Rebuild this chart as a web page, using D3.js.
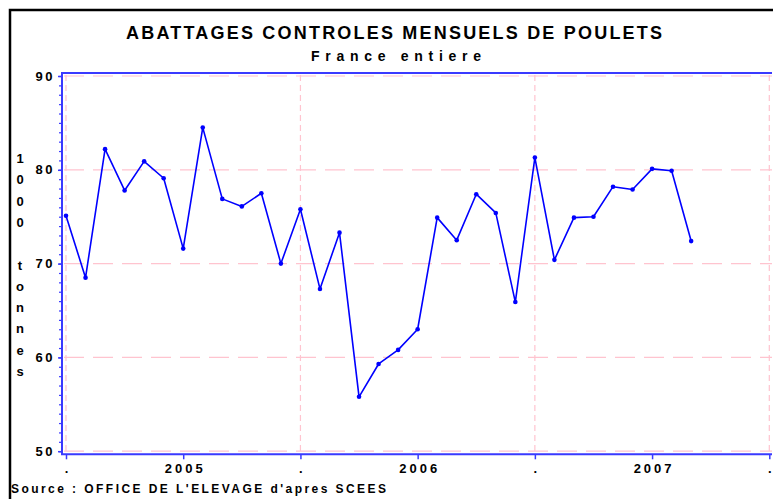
<!DOCTYPE html>
<html>
<head>
<meta charset="utf-8">
<script src="https://cdn.jsdelivr.net/npm/d3@7"></script>
<style>
  body { margin: 0; background: #fff; }
  svg text { font-family: Arial, "Liberation Sans", sans-serif; font-weight: bold; fill: #000; }
</style>
</head>
<body>
<div id="chart"></div>
<script>
// monthly chicken slaughter, 1000 tonnes
const months = [
  '2004-07', '2004-08', '2004-09', '2004-10', '2004-11', '2004-12',
  '2005-01', '2005-02', '2005-03', '2005-04', '2005-05', '2005-06',
  '2005-07', '2005-08', '2005-09', '2005-10', '2005-11', '2005-12',
  '2006-01', '2006-02', '2006-03', '2006-04', '2006-05', '2006-06',
  '2006-07', '2006-08', '2006-09', '2006-10', '2006-11', '2006-12',
  '2007-01', '2007-02', '2007-03'
];
const tonnes = [
  75.1, 68.5, 82.2, 77.8, 80.9, 79.1,
  71.6, 84.5, 76.9, 76.1, 77.5, 70.0,
  75.8, 67.3, 73.3, 55.8, 59.3, 60.8,
  63.0, 74.9, 72.5, 77.4, 75.4, 65.9,
  81.3, 70.4, 74.9, 75.0, 78.2, 77.9,
  80.1, 79.9, 72.4
];
const xTickMonths = [0, 6, 12, 18, 24, 30, 36];
const xTickLabels = ['.', '2005', '.', '2006', '.', '2007', '.'];
const xGridMonths = [0, 12, 24, 36];
const yTicks = [50, 60, 70, 80, 90];
const yLabelChars = ['1', '0', '0', '0', ' ', 't', 'o', 'n', 'n', 'e', 's'];

const width = 773;
const height = 499;

const svg = d3.select('#chart').append('svg')
  .attr('width', width)
  .attr('height', height);

// outer frame (only top/left visible in the picture)
svg.append('path')
  .attr('d', `M10,${height + 5}V10H${width + 5}`)
  .attr('fill', 'none')
  .attr('stroke', '#000')
  .attr('stroke-width', 2.5);

svg.append('text')
  .attr('x', 394).attr('y', 39)
  .attr('text-anchor', 'middle')
  .attr('font-size', 18)
  .attr('textLength', 536)
  .attr('lengthAdjust', 'spacing')
  .text('ABATTAGES CONTROLES MENSUELS DE POULETS');

svg.append('text')
  .attr('x', 396).attr('y', 61)
  .attr('text-anchor', 'middle')
  .attr('font-size', 14)
  .attr('textLength', 170)
  .attr('lengthAdjust', 'spacing')
  .text('France entiere');

const x = d3.scaleLinear().domain([0, 36]).range([66, 769.3]);
const y = d3.scaleLinear().domain([50, 90]).range([451.2, 76]);

const frameLeft = 62, frameTop = 73, frameBottom = 454.3, frameRight = 772;

// grid
const grid = svg.append('g').attr('stroke', '#ffc4cf').attr('stroke-width', 1.2);
grid.selectAll('line.h')
  .data(yTicks)
  .enter().append('line')
    .attr('class', 'h')
    .attr('x1', frameLeft + 2).attr('x2', frameRight)
    .attr('y1', d => y(d)).attr('y2', d => y(d))
    .attr('stroke-dasharray', '20,9');
grid.selectAll('line.v')
  .data(xGridMonths)
  .enter().append('line')
    .attr('class', 'v')
    .attr('x1', d => x(d)).attr('x2', d => x(d))
    .attr('y1', frameTop + 2).attr('y2', frameBottom)
    .attr('stroke-dasharray', '6,4');

// axis frame
const axisColor = '#3a3aff';
svg.append('path')
  .attr('d', `M${frameRight},${frameTop}H${frameLeft}V${frameBottom}H${frameRight}`)
  .attr('fill', 'none')
  .attr('stroke', axisColor)
  .attr('stroke-width', 2);

// y axis
const yAxis = svg.append('g')
  .attr('transform', `translate(${frameLeft},0)`)
  .call(d3.axisLeft(y).tickValues(yTicks).tickSize(4).tickPadding(5).tickFormat(d3.format('d')));
yAxis.select('.domain').remove();
yAxis.selectAll('.tick line').attr('stroke', axisColor).attr('stroke-width', 1.5);
yAxis.selectAll('.tick text')
  .attr('font-size', 13)
  .attr('letter-spacing', 2.5)
  .attr('dx', 2)
  .style('font-family', 'Arial, "Liberation Sans", sans-serif')
  .style('font-weight', 'bold');

const yMinor = svg.append('g')
  .attr('transform', `translate(${frameLeft},0)`)
  .call(d3.axisLeft(y).ticks(40).tickSize(3).tickFormat(''));
yMinor.select('.domain').remove();
yMinor.selectAll('.tick line').attr('stroke', axisColor).attr('stroke-width', 1.2);

// x axis
const xAxis = svg.append('g')
  .attr('transform', `translate(0,${frameBottom})`)
  .call(d3.axisBottom(x).tickValues(xTickMonths).tickSize(5).tickPadding(4)
    .tickFormat((d, i) => xTickLabels[i]));
xAxis.select('.domain').remove();
xAxis.selectAll('.tick line').attr('stroke', axisColor).attr('stroke-width', 1.5);
xAxis.selectAll('.tick text')
  .attr('font-size', 13)
  .style('font-family', 'Arial, "Liberation Sans", sans-serif')
  .style('font-weight', 'bold');
// only the year labels are spaced out; the dots stay centred on their tick
xAxis.selectAll('.tick text')
  .filter((d, i) => xTickLabels[i] !== '.')
  .attr('letter-spacing', 3)
  .attr('dx', 1.5);

// vertical y label, one character per line
svg.append('g').selectAll('text')
  .data(yLabelChars)
  .enter().append('text')
    .attr('x', 20)
    .attr('y', (d, i) => 163 + i * 21.3)
    .attr('text-anchor', 'middle')
    .attr('font-size', 13)
    .text(d => d);

// series
const line = d3.line()
  .x((d, i) => x(i))
  .y(d => y(d));

svg.append('path')
  .datum(tonnes)
  .attr('fill', 'none')
  .attr('stroke', '#0000ff')
  .attr('stroke-width', 1.6)
  .attr('stroke-linejoin', 'round')
  .attr('d', line);

svg.append('g').selectAll('circle')
  .data(tonnes)
  .enter().append('circle')
    .attr('cx', (d, i) => x(i))
    .attr('cy', d => y(d))
    .attr('r', 2.3)
    .attr('fill', '#0000ff');

svg.append('text')
  .attr('x', 11).attr('y', 493)
  .attr('font-size', 12)
  .attr('textLength', 375)
  .attr('lengthAdjust', 'spacing')
  .text("Source : OFFICE DE L'ELEVAGE d'apres SCEES");
</script>
</body>
</html>
